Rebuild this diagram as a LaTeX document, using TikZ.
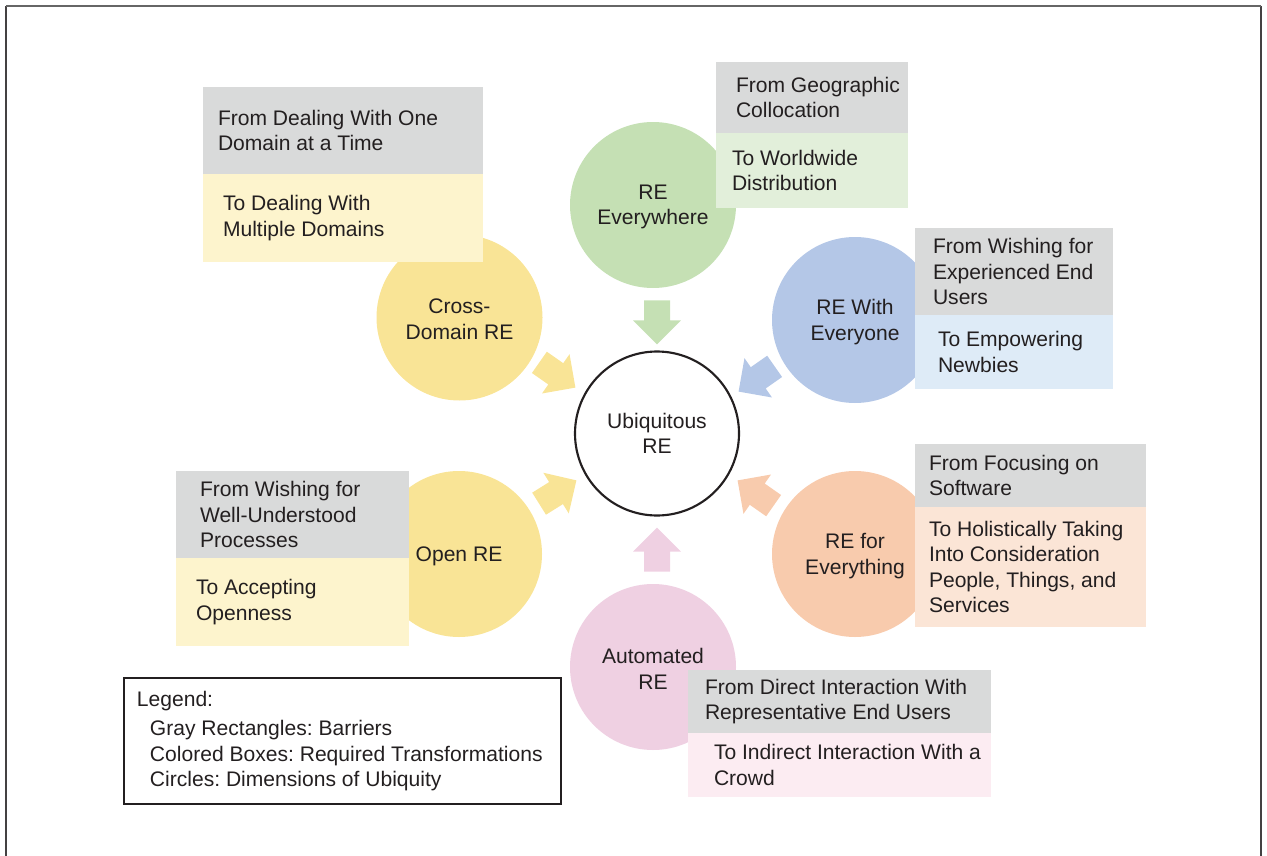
\documentclass[tikz,border=0pt]{standalone}
\usepackage{fontspec}
\setmainfont{Liberation Sans}
\usetikzlibrary{shapes.arrows,fit,calc}
\frenchspacing

\definecolor{ink}{RGB}{35,31,32}
\definecolor{barriergray}{RGB}{217,218,218}
\definecolor{yellowdim}{RGB}{249,228,150}
\definecolor{yellowbox}{RGB}{253,244,205}
\definecolor{greendim}{RGB}{197,224,180}
\definecolor{greenbox}{RGB}{226,239,218}
\definecolor{bluedim}{RGB}{180,199,231}
\definecolor{bluebox}{RGB}{222,235,247}
\definecolor{orangedim}{RGB}{248,203,173}
\definecolor{orangebox}{RGB}{251,229,214}
\definecolor{pinkdim}{RGB}{239,208,226}
\definecolor{pinkbox}{RGB}{252,236,242}

\tikzset{every picture/.style={line width=0.75pt}}
\tikzset{
  dimension/.style={circle, draw=none, inner sep=0pt, minimum size=124.5pt, align=center, text=ink},
  dimtext/.style={align=center, inner sep=0pt, text=ink, yshift=-1.5pt},
  hub/.style={circle, draw=ink, line width=1.6pt, inner sep=0pt, minimum size=123pt, align=center, text=ink},
  barrier/.style={fill=barriergray, draw=none, inner sep=0pt},
  change/.style={draw=none, inner sep=0pt},
  boxtext/.style={anchor=west, align=left, inner sep=0pt, text=ink},
  pointer/.style={single arrow, draw=none, anchor=tip, inner xsep=0pt, inner ysep=9.375pt,
    minimum height=33pt, minimum width=35.25pt, single arrow head extend=8.25pt},
}

\begin{document}
\begin{tikzpicture}[x=0.75pt,y=0.75pt,yscale=-1,xscale=1,font=\fontsize{15.8}{19.2}\selectfont]
\useasboundingbox (0,0) rectangle (1267,856);

%Frame
\draw [ink!85, line width=1.1pt] (6,856) -- (6,6) ;
\draw [ink!85, line width=1.1pt] (1261,6) -- (1261,856) ;
\draw [black!60, line width=1.6pt] (6,6) -- (1261,6) ;

%Circles: dimensions
\node [dimension, fill=yellowdim] (crossdomain) at (459.5,317.5) {};
\node [dimension, fill=greendim] (everywhere) at (653,205) {};
\node [dimension, fill=bluedim] (everyone) at (855,320) {};
\node [dimension, fill=yellowdim] (openre) at (459,554) {};
\node [dimension, fill=orangedim] (everything) at (855,554) {};
\node [dimension, fill=pinkdim] (automated) at (653,667) {};

% Text Node
\node [dimtext] at (crossdomain) {Cross-\\Domain RE};
\node [dimtext] at (everywhere) {RE\\Everywhere};
\node [dimtext] at (everyone) {RE With\\Everyone};
\node [dimtext] at (openre) {Open RE};
\node [dimtext] at (everything) {RE for\\Everything};
\node [dimtext] at (automated) {Automated\\RE};

%Block arrows
\node [pointer, fill=greendim, rotate=-90] (toHubTop) at (657,345) {};
\node [pointer, fill=pinkdim, rotate=90] (toHubBottom) at (657,527) {};
\node [pointer, fill=yellowdim, rotate=-35] (toHubUL) at (576,388) {};
\node [pointer, fill=yellowdim, rotate=32] (toHubLL) at (577,480) {};
\node [pointer, fill=bluedim, rotate=-145] (toHubUR) at (738,392) {};
\node [pointer, fill=orangedim, rotate=145] (toHubLR) at (737,480) {};

%Hub
\node [hub] (hub) at (657,433.5) {Ubiquitous\\RE};

%Cross-Domain boxes
\node [barrier, fit={(203,87) (483,174)}] (domainFrom) {};
\node [change, fill=yellowbox, fit={(203,174) (483,262)}] (domainTo) {};
\node [boxtext] at ($(domainFrom.west)+(15,0)$) {From Dealing With One\\Domain at a Time};
\node [boxtext] at ($(domainTo.west)+(20,0)$) {To Dealing With\\Multiple Domains};

%Everywhere boxes
\node [barrier, fit={(716,62) (908,133)}] (geoFrom) {};
\node [change, fill=greenbox, fit={(716,133) (908,208)}] (geoTo) {};
\node [boxtext] at ($(geoFrom.west)+(20,0)$) {From Geographic\\Collocation};
\node [boxtext] at ($(geoTo.west)+(16,0)$) {To Worldwide\\Distribution};

%Everyone boxes
\node [barrier, fit={(915,228) (1113,315)}] (userFrom) {};
\node [change, fill=bluebox, fit={(915,315) (1113,389)}] (userTo) {};
\node [boxtext] at ($(userFrom.west)+(18,0)$) {From Wishing for\\Experienced End\\Users};
\node [boxtext] at ($(userTo.west)+(23,0)$) {To Empowering\\Newbies};

%Everything boxes
\node [barrier, fit={(915,444) (1146,507)}] (softFrom) {};
\node [change, fill=orangebox, fit={(915,507) (1146,627)}] (softTo) {};
\node [boxtext] at ($(softFrom.west)+(14,0)$) {From Focusing on\\Software};
\node [boxtext] at ($(softTo.west)+(14,0)$) {To Holistically Taking\\Into Consideration\\People, Things, and\\Services};

%Automated boxes
\node [barrier, fit={(688,670) (991,733)}] (crowdFrom) {};
\node [change, fill=pinkbox, fit={(688,733) (991,797)}] (crowdTo) {};
\node [boxtext] at ($(crowdFrom.west)+(17,0)$) {From Direct Interaction With\\Representative End Users};
\node [boxtext] at ($(crowdTo.west)+(26,0)$) {To Indirect Interaction With a\\Crowd};

%Open RE boxes
\node [barrier, fit={(176,471) (409,558)}] (processFrom) {};
\node [change, fill=yellowbox, fit={(176,558) (409,646)}] (processTo) {};
\node [boxtext] at ($(processFrom.west)+(24,0)$) {From Wishing for\\Well-Understood\\Processes};
\node [boxtext] at ($(processTo.west)+(20,0)$) {To Accepting\\Openness};

%Legend
\node [draw=ink, line width=0.8pt, inner sep=0pt, fit={(124,678) (561,804)}] (legend) {};
\node [boxtext] at ($(legend.west)+(13,0)$) {Legend:\\[3pt]
\hspace*{9.75pt}Gray Rectangles: Barriers\\
\hspace*{9.75pt}Colored Boxes: Required Transformations\\
\hspace*{9.75pt}Circles: Dimensions of Ubiquity};

\end{tikzpicture}
\end{document}
